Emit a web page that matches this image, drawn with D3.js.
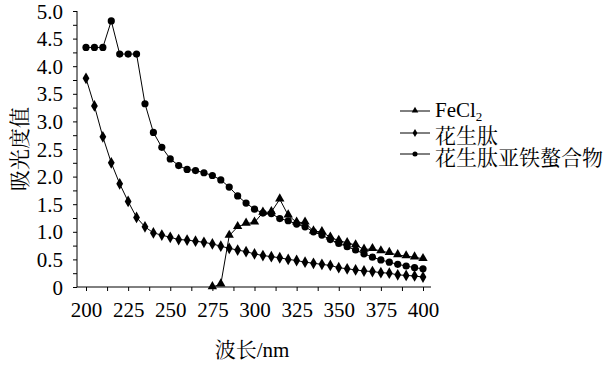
<!DOCTYPE html>
<html><head><meta charset="utf-8">
<script src="https://cdn.jsdelivr.net/npm/d3@7"></script>
<style>body{margin:0;background:#fff}svg{display:block}</style>
</head><body>
<script>
const wavelengths = d3.range(200, 401, 5);
const peptide = [3.78,3.28,2.72,2.25,1.87,1.55,1.26,1.09,0.98,0.94,0.90,0.86,0.85,0.83,0.81,0.78,0.74,0.70,0.67,0.64,0.60,0.57,0.55,0.53,0.50,0.48,0.45,0.43,0.41,0.39,0.35,0.33,0.31,0.29,0.28,0.26,0.25,0.22,0.21,0.20,0.18];
const chelate = [4.34,4.34,4.34,4.82,4.22,4.22,4.22,3.32,2.80,2.53,2.32,2.20,2.13,2.11,2.07,2.02,1.94,1.81,1.65,1.52,1.41,1.34,1.33,1.24,1.20,1.14,1.09,1.00,0.94,0.86,0.79,0.73,0.67,0.60,0.54,0.49,0.45,0.41,0.38,0.35,0.33];
const fecl2Wavelengths = d3.range(275, 401, 5);
const fecl2 = [0.00,0.05,0.93,1.09,1.15,1.17,1.35,1.36,1.59,1.30,1.17,1.17,1.01,1.00,0.90,0.84,0.80,0.76,0.68,0.69,0.65,0.62,0.58,0.56,0.54,0.51];
const yTicks = [0,0.5,1,1.5,2,2.5,3,3.5,4,4.5,5];
const xTicks = [200,225,250,275,300,325,350,375,400];
const legendLabels = ["FeCl", "花生肽", "花生肽亚铁螯合物"];

const W = 613, H = 365;
const svg = d3.select("body").append("svg").attr("width", W).attr("height", H);
const x = d3.scaleLinear().domain([200, 400]).range([86, 423]);
const y = d3.scaleLinear().domain([0, 5]).range([287, 11]);
const font = "Liberation Serif, serif";
const cjk = "Noto Serif CJK SC, Noto Sans CJK SC, serif";

// axes
const gy = svg.append("g").attr("transform", "translate(77,0)")
  .call(d3.axisLeft(y).tickValues(yTicks).tickSize(4).tickPadding(10)
    .tickFormat(d => d === 0 ? "0" : d3.format(".1f")(d)));
gy.attr("font-family", font).attr("font-size", 21);
gy.select(".domain").remove();
svg.append("g").attr("transform", "translate(77,0)")
  .call(d3.axisLeft(y).tickValues(d3.range(0.25, 5, 0.5)).tickSize(4).tickFormat(""))
  .select(".domain").remove();
gy.selectAll("text").attr("fill", "#000").attr("dy", "0.34em");

const gx = svg.append("g").attr("transform", "translate(0,287)")
  .call(d3.axisBottom(x).tickValues(xTicks).tickSize(4).tickPadding(0).tickFormat(d3.format("d")));
gx.attr("font-family", font).attr("font-size", 21);
gx.select(".domain").remove();
svg.append("g").attr("transform", "translate(0,287)")
  .call(d3.axisBottom(x).tickValues(d3.range(212.5, 400, 25)).tickSize(4).tickFormat(""))
  .select(".domain").remove();
gx.selectAll("text").attr("fill", "#000").attr("y", 30).attr("dy", 0);
svg.selectAll(".tick line").attr("stroke", "#000");

svg.append("line").attr("x1", 77).attr("x2", 77).attr("y1", 11).attr("y2", 287).attr("stroke", "#000");
svg.append("line").attr("x1", 77).attr("x2", 431).attr("y1", 287).attr("y2", 287).attr("stroke", "#000");

// axis titles
svg.append("text").attr("x", 252).attr("y", 357).attr("text-anchor", "middle")
  .attr("font-family", font).attr("font-size", 21)
  .call(t => { t.append("tspan").attr("font-family", cjk).text("波长"); t.append("tspan").text("/nm"); });
svg.append("text").attr("transform", "translate(27,149) rotate(-90)").attr("text-anchor", "middle")
  .attr("font-family", cjk).attr("font-size", 21).text("吸光度值");

// series
const line = d3.line().x(d => x(d[0])).y(d => y(d[1]));
const sPep = wavelengths.map((w, i) => [w, peptide[i]]);
const sChe = wavelengths.map((w, i) => [w, chelate[i]]);
const sFe = fecl2Wavelengths.map((w, i) => [w, fecl2[i]]);

function marker(g, type, cx, cy, s) {
  if (type === "circle") g.append("circle").attr("cx", cx).attr("cy", cy).attr("r", 3.6 * s).attr("fill", "#000");
  else if (type === "diamond") g.append("path").attr("d", d3.symbol(d3.symbolDiamond, 40 * s * s)()).attr("transform", `translate(${cx},${cy})`).attr("fill", "#000");
  else g.append("path").attr("d", d3.symbol(d3.symbolTriangle, 38 * s * s)()).attr("transform", `translate(${cx},${cy - 0.5})`).attr("fill", "#000");
}
const series = [[sFe, "triangle"], [sPep, "diamond"], [sChe, "circle"]];
series.forEach(([data, type]) => {
  svg.append("path").datum(data).attr("d", line).attr("fill", "none").attr("stroke", "#000").attr("stroke-width", 1);
});
series.forEach(([data, type]) => {
  const g = svg.append("g");
  data.forEach(d => marker(g, type, x(d[0]), y(d[1]), 1));
});

// legend
const legY = [111, 133, 154];
const legBase = [117, 143, 165];
const legTypes = ["triangle", "diamond", "circle"];
legY.forEach((ly, i) => {
  svg.append("line").attr("x1", 400).attr("x2", 430).attr("y1", ly).attr("y2", ly).attr("stroke", "#000");
  marker(svg, legTypes[i], 415, ly, 0.7);
  const t = svg.append("text").attr("x", 435).attr("y", legBase[i]).attr("font-size", 21);
  if (i === 0) {
    t.attr("font-family", font);
    t.append("tspan").text(legendLabels[0]);
    t.append("tspan").attr("font-size", 13).attr("dy", 4).text("2");
  } else {
    t.attr("font-family", cjk).text(legendLabels[i]);
  }
});
</script>
</body></html>
